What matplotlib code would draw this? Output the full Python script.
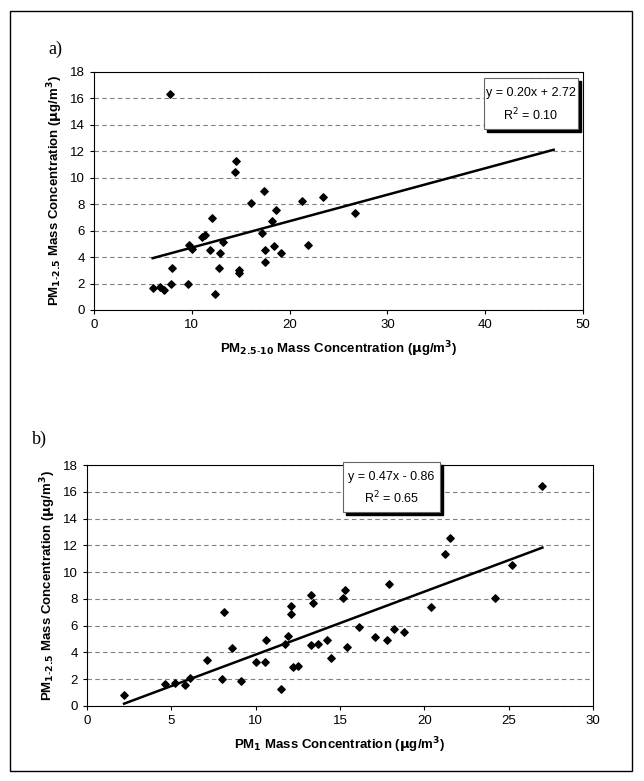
import matplotlib
matplotlib.use('Agg')
import matplotlib.pyplot as plt
from matplotlib.patches import Rectangle

plt.rcParams['font.family'] = ['Liberation Sans', 'DejaVu Sans']

# panel a: PM2.5-10 vs PM1-2.5
a_x = [6.0, 6.7, 7.15, 7.9, 8.0, 7.8, 9.6, 9.7, 10.0, 11.0, 11.3, 11.9, 12.1, 12.4,
       12.8, 12.9, 13.2, 14.4, 14.5, 14.8, 14.85, 16.1, 17.2, 17.4, 17.5, 17.5,
       18.2, 18.4, 18.6, 19.1, 21.3, 21.9, 23.4, 26.7]
a_y = [1.66, 1.76, 1.51, 2.0, 3.17, 16.3, 2.0, 4.94, 4.6, 5.5, 5.7, 4.56, 6.95, 1.2,
       3.17, 4.33, 5.14, 10.45, 11.26, 3.0, 2.8, 8.06, 5.84, 9.0, 4.56, 3.63,
       6.73, 4.84, 7.6, 4.33, 8.26, 4.94, 8.56, 7.33]
a_fit = (0.20, 2.72, 6.0, 47.0)

# panel b: PM1 vs PM1-2.5
b_x = [2.2, 4.65, 5.2, 5.8, 6.1, 7.1, 8.0, 8.1, 8.6, 9.15, 10.0, 10.55, 10.6, 11.5,
       11.75, 11.9, 12.1, 12.1, 12.2, 12.5, 13.3, 13.3, 13.4, 13.7, 14.25, 14.45,
       15.2, 15.3, 15.4, 16.1, 17.1, 17.8, 17.9, 18.2, 18.8, 20.4, 21.2, 21.5,
       24.2, 25.2, 27.0]
b_y = [0.8, 1.65, 1.75, 1.57, 2.1, 3.44, 2.0, 6.99, 4.32, 1.87, 3.25, 3.25, 4.9, 1.3,
       4.62, 5.2, 7.44, 6.84, 2.9, 3.0, 8.29, 4.54, 7.69, 4.62, 4.92, 3.62,
       8.06, 8.66, 4.39, 5.92, 5.19, 4.92, 9.09, 5.77, 5.54, 7.36, 11.33, 12.58,
       8.06, 10.53, 16.43]
b_fit = (0.47, -0.86, 2.2, 27.0)

fit_r2 = {'a)': 0.10, 'b)': 0.65}

W, H = 644, 781
fig = plt.figure(figsize=(W / 100, H / 100), dpi=100)
fig.patches.append(Rectangle((10 / W, 10 / H), 622 / W, 760 / H, transform=fig.transFigure,
                             fill=False, lw=1, ec='black'))


def panel(rect, x, y, fit, xmax, xstep, xlabel, label, lx, eq, box):
    ax = fig.add_axes([rect[0] / W, 1 - rect[3] / H, (rect[2] - rect[0]) / W, (rect[3] - rect[1]) / H])
    ax.scatter(x, y, marker='D', s=14, color='black', zorder=3)
    m, c, x0, x1 = fit
    ax.plot([x0, x1], [m * x0 + c, m * x1 + c], color='black', lw=1.8)
    ax.set_xlim(0, xmax)
    ax.set_ylim(0, 18)
    ax.set_xticks(range(0, xmax + 1, xstep))
    ax.set_yticks(range(0, 19, 2))
    ax.yaxis.grid(True, linestyle=(0, (4, 3)), color='#808080', lw=0.8)
    ax.set_axisbelow(True)
    ax.tick_params(labelsize=9.5, length=3, direction='out')
    ax.set_xlabel(xlabel, fontsize=9.5, fontweight='bold', labelpad=6)
    ax.set_ylabel(r'PM$_{\mathbf{1\text{-}2.5}}$ Mass Concentration ($\mathbf{\mu}$g/m$^{\mathbf{3}}$)',
                  fontsize=9.5, fontweight='bold')
    fig.text(lx[0] / W, 1 - lx[1] / H, label, fontsize=13, family='Liberation Serif')
    bx0, by0, bx1, by1 = box
    fig.patches.append(Rectangle(((bx0 + 3) / W, 1 - (by1 + 3) / H), (bx1 - bx0) / W, (by1 - by0) / H,
                                 transform=fig.transFigure, color='black', zorder=5))
    fig.patches.append(Rectangle((bx0 / W, 1 - by1 / H), (bx1 - bx0) / W, (by1 - by0) / H,
                                 transform=fig.transFigure, fc='white', ec='#666666', lw=0.8, zorder=6))
    fig.text((bx0 + bx1) / 2 / W, 1 - (by0 + (by1 - by0) * 0.3) / H, eq, ha='center', va='center',
             fontsize=9, zorder=7)
    fig.text((bx0 + bx1) / 2 / W, 1 - (by0 + (by1 - by0) * 0.72) / H, r'R$^2$ = ' + f'{fit_r2[label]:.2f}',
             ha='center', va='center', fontsize=9, zorder=7)
    return ax


panel((94, 72, 583, 310), a_x, a_y, a_fit, 50, 10,
      r'PM$_{\mathbf{2.5\text{-}10}}$ Mass Concentration ($\mathbf{\mu}$g/m$^{\mathbf{3}}$)',
      'a)', (48, 54), 'y = 0.20x + 2.72', (484, 78, 578, 129))
panel((87, 465, 593, 706), b_x, b_y, b_fit, 30, 5,
      r'PM$_{\mathbf{1}}$ Mass Concentration ($\mathbf{\mu}$g/m$^{\mathbf{3}}$)',
      'b)', (32, 444), 'y = 0.47x - 0.86', (343, 462, 440, 512))

fig.savefig('out.png', dpi=100)
